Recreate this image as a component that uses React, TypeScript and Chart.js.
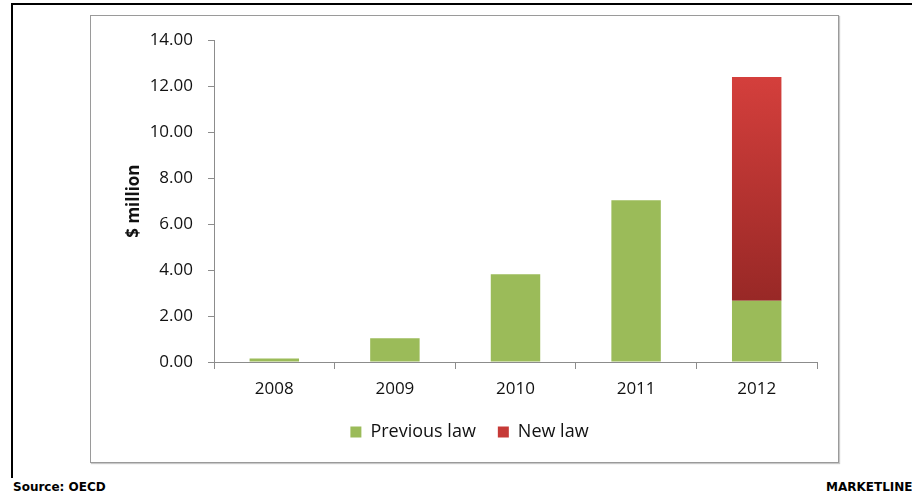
import React, { useEffect, useRef } from "react";
import { Chart, registerables } from "chart.js";

Chart.register(...registerables);

const categories = ["2008", "2009", "2010", "2011", "2012"];
const previousLaw = [0.15, 1.03, 3.82, 7.04, 2.66];
const newLaw = [0, 0, 0, 0, 9.74];
const yTicks = [0, 2, 4, 6, 8, 10, 12, 14];
const seriesNames = ["Previous law", "New law"];
const axisTitle = "$ million";
const sourceText = "Source: OECD";
const brandText = "MARKETLINE";

const FONT = "'Open Sans', 'Liberation Sans', sans-serif";

export default function App() {
  const canvasRef = useRef<HTMLCanvasElement | null>(null);

  useEffect(() => {
    const canvas = canvasRef.current;
    if (!canvas) return;
    const redFill = (ctx: any) => {
      const chart = ctx.chart;
      const i = ctx.dataIndex;
      const y = chart.scales && chart.scales.y;
      if (i === undefined || !chart.chartArea || !y) return "#C63A37";
      const top = y.getPixelForValue(previousLaw[i] + newLaw[i]);
      const bottom = y.getPixelForValue(previousLaw[i]);
      if (!isFinite(top) || !isFinite(bottom) || bottom - top < 1) return "#C63A37";
      const g = chart.ctx.createLinearGradient(0, top, 0, bottom);
      g.addColorStop(0, "#D43F3C");
      g.addColorStop(1, "#982826");
      return g;
    };
    const chart = new Chart(canvas, {
      type: "bar",
      data: {
        labels: categories,
        datasets: [
          {
            label: seriesNames[0],
            data: previousLaw,
            backgroundColor: "#9BBB59",
            borderWidth: 0,
            barPercentage: 0.41,
            categoryPercentage: 1,
          },
          {
            label: seriesNames[1],
            data: newLaw,
            backgroundColor: redFill,
            borderWidth: 0,
            barPercentage: 0.41,
            categoryPercentage: 1,
          },
        ],
      },
      options: {
        responsive: false,
        animation: false,
        layout: { padding: { left: 32, right: 22, top: 23, bottom: 12 } },
        plugins: {
          tooltip: { enabled: false },
          legend: {
            position: "bottom",
            labels: {
              boxWidth: 11,
              boxHeight: 11,
              padding: 22,
              color: "#111",
              font: { family: FONT, size: 18 },
            },
          },
        },
        scales: {
          x: {
            stacked: true,
            afterFit: (s: any) => {
              s.height = 39;
            },
            grid: {
              display: true,
              offset: true,
              drawOnChartArea: false,
              drawTicks: true,
              tickLength: 7,
              color: "#8c8c8c",
            },
            border: { display: true, color: "#8c8c8c", width: 1 },
            ticks: {
              color: "#111",
              padding: 10,
              font: { family: FONT, size: 17 },
            },
          },
          y: {
            stacked: true,
            min: 0,
            max: 14,
            afterFit: (s: any) => {
              s.width = 92;
            },
            afterBuildTicks: (s: any) => {
              s.ticks = yTicks.map((v) => ({ value: v }));
            },
            grid: {
              display: true,
              drawOnChartArea: false,
              drawTicks: true,
              tickLength: 6,
              color: "#8c8c8c",
            },
            border: { display: true, color: "#8c8c8c", width: 1 },
            ticks: {
              color: "#111",
              padding: 15,
              font: { family: FONT, size: 17 },
              callback: (v: any) => Number(v).toFixed(2),
            },
            title: {
              display: true,
              text: axisTitle,
              color: "#111",
              padding: { top: 2, bottom: 0 },
              font: { family: FONT, size: 17, weight: "bold" },
            },
          },
        },
      },
    });
    return () => chart.destroy();
  }, []);

  return (
    <div
      style={{
        position: "fixed",
        left: 0,
        top: 0,
        width: 912,
        height: 495,
        background: "#fff",
        overflow: "hidden",
      }}
    >
      <div
        style={{
          position: "absolute",
          left: 11,
          top: 3,
          width: 920,
          height: 475,
          borderTop: "2px solid #000",
          borderLeft: "2px solid #000",
          boxSizing: "border-box",
        }}
      />
      <div
        style={{
          position: "absolute",
          left: 90,
          top: 15,
          width: 749,
          height: 448,
          border: "1px solid #9a9a9a",
          boxShadow: "1px 1px 1px #c8c8c8",
          boxSizing: "border-box",
        }}
      />
      <canvas
        ref={canvasRef}
        width={749}
        height={448}
        style={{ position: "absolute", left: 90, top: 15, width: 749, height: 448 }}
      />
      <div
        style={{
          position: "absolute",
          left: 13,
          top: 482,
          fontFamily: "'DejaVu Sans', sans-serif",
          fontWeight: "bold",
          fontSize: 12,
          lineHeight: "11px",
          color: "#000",
          whiteSpace: "nowrap",
        }}
      >
        {sourceText}
      </div>
      <div
        style={{
          position: "absolute",
          left: 826,
          top: 482,
          fontFamily: "'DejaVu Sans', sans-serif",
          fontWeight: "bold",
          fontSize: 12,
          lineHeight: "11px",
          color: "#000",
          whiteSpace: "nowrap",
        }}
      >
        {brandText}
      </div>
    </div>
  );
}
